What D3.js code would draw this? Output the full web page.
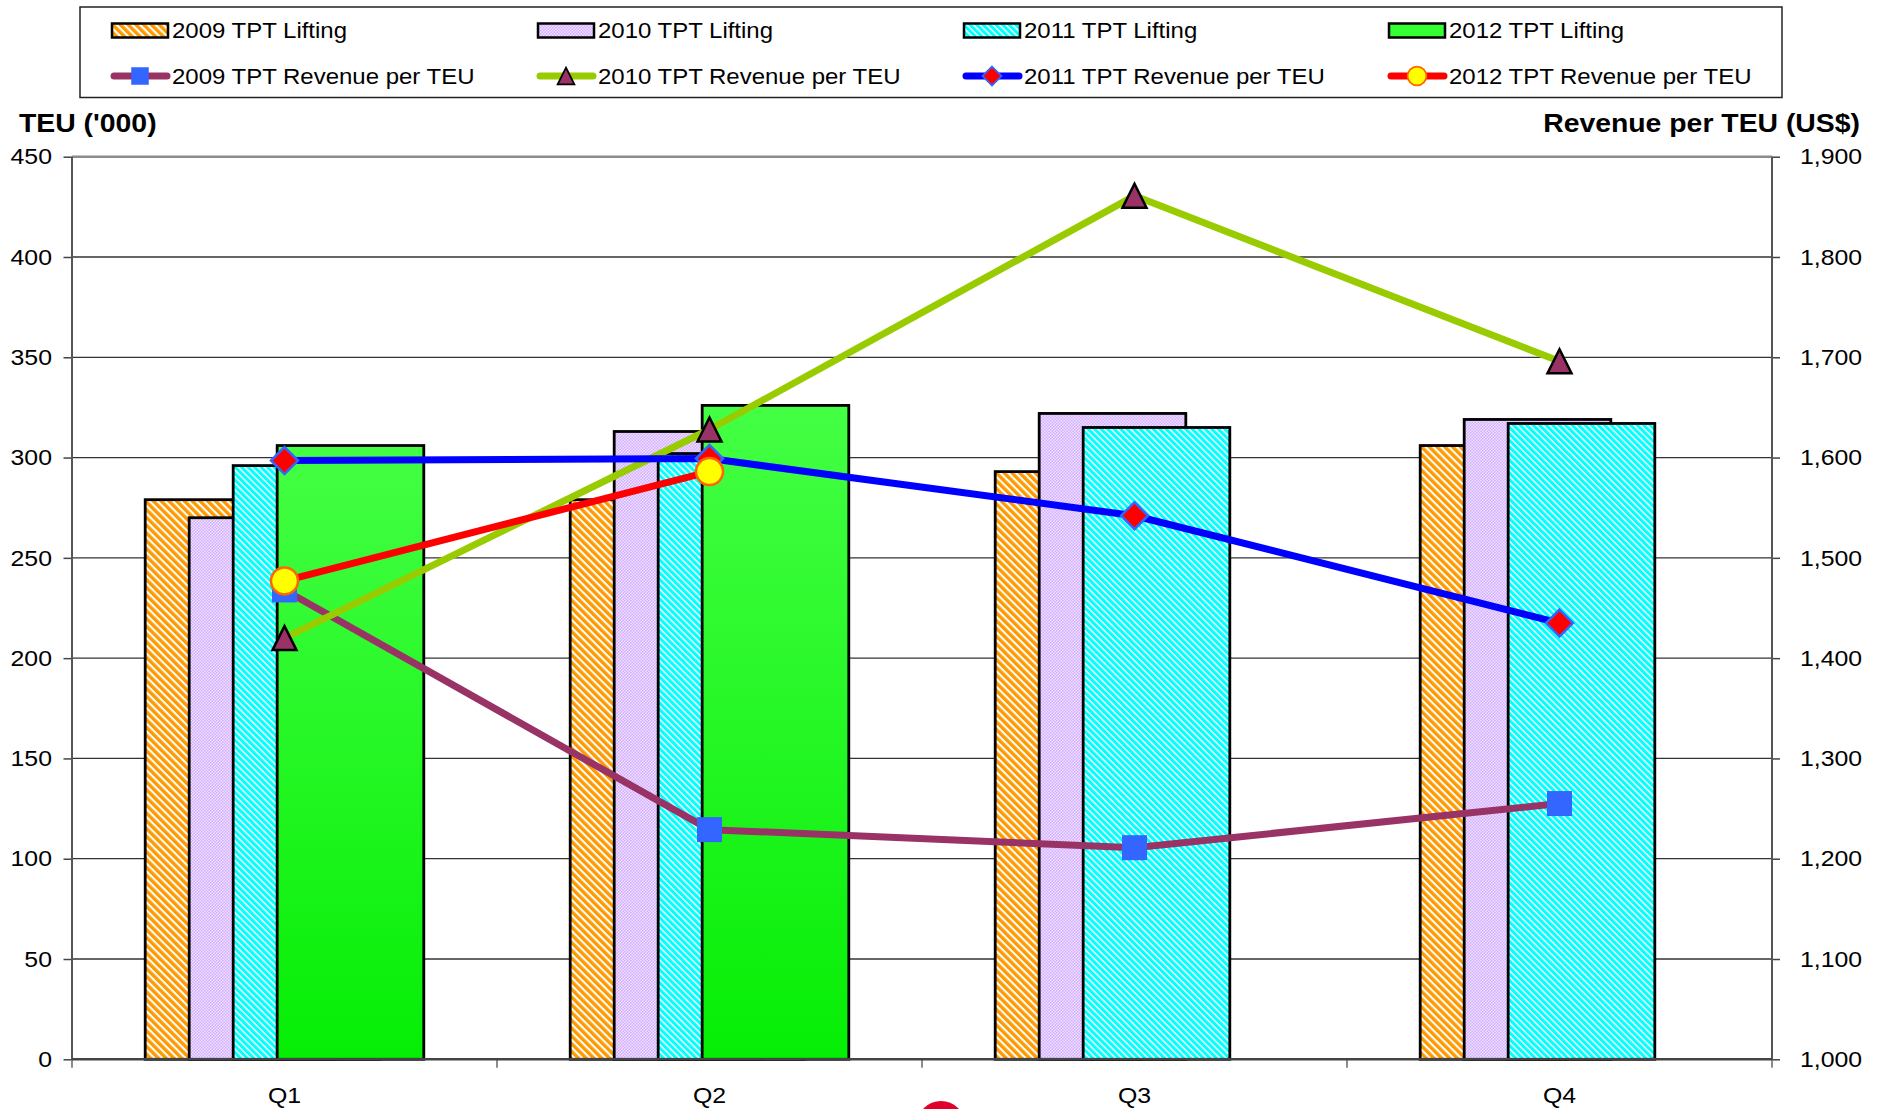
<!DOCTYPE html>
<html>
<head>
<meta charset="utf-8">
<script src="https://cdn.jsdelivr.net/npm/d3@7"></script>
<style>
  body { margin: 0; background: #fff; }
  svg { display: block; font-family: "Liberation Sans", Arial, sans-serif; }
</style>
</head>
<body>
<svg id="svg1" width="1885" height="1109"></svg>
<script>
var quarters = ["Q1", "Q2", "Q3", "Q4"];

var lift2009 = [279, 279, 293, 306];
var lift2010 = [270, 313, 322, 319];
var lift2011 = [296, 302, 315, 317];
var lift2012 = [306, 326, null, null];

var rev2009 = [1468, 1229, 1211, 1255];
var rev2010 = [1420, 1628, 1861, 1696];
var rev2011 = [1597, 1599, 1542, 1435];
var rev2012 = [1477, 1586, null, null];

var leftTicks = [0, 50, 100, 150, 200, 250, 300, 350, 400, 450];
var rightTicks = [1000, 1100, 1200, 1300, 1400, 1500, 1600, 1700, 1800, 1900];

var barSeries = [
  { name: "2009 TPT Lifting", values: lift2009, fill: "url(#pat2009)" },
  { name: "2010 TPT Lifting", values: lift2010, fill: "url(#pat2010)" },
  { name: "2011 TPT Lifting", values: lift2011, fill: "url(#pat2011)" },
  { name: "2012 TPT Lifting", values: lift2012, fill: "url(#grad2012)" }
];

var lineSeries = [
  { name: "2009 TPT Revenue per TEU", values: rev2009, color: "#993366", marker: "square" },
  { name: "2010 TPT Revenue per TEU", values: rev2010, color: "#99cc00", marker: "triangle" },
  { name: "2011 TPT Revenue per TEU", values: rev2011, color: "#0000ff", marker: "diamond" },
  { name: "2012 TPT Revenue per TEU", values: rev2012, color: "#ff0000", marker: "circle" }
];

var stretch = 1.1;

var plotLeft = 72, plotRight = 1772, plotTop = 156.7, plotBottom = 1059.3;

var svg = d3.select("#svg1");

svg.append("rect").attr("width", 1885).attr("height", 1109).attr("fill", "#fff");

// patterns
var defs = svg.append("defs");

var p9 = defs.append("pattern")
    .attr("id", "pat2009")
    .attr("patternUnits", "userSpaceOnUse")
    .attr("width", 5.5).attr("height", 10)
    .attr("patternTransform", "rotate(-45)");
p9.append("rect").attr("width", 5.5).attr("height", 10).attr("fill", "#fff");
p9.append("rect").attr("width", 3.4).attr("height", 10).attr("fill", "#ff9900");

var p10 = defs.append("pattern")
    .attr("id", "pat2010")
    .attr("patternUnits", "userSpaceOnUse")
    .attr("width", 3).attr("height", 3);
p10.append("rect").attr("width", 3).attr("height", 3).attr("fill", "#efe2ff");
p10.append("rect").attr("width", 1.5).attr("height", 1.5).attr("fill", "#d4adff");
p10.append("rect").attr("x", 1.5).attr("y", 1.5).attr("width", 1.5).attr("height", 1.5).attr("fill", "#d4adff");

var p11 = defs.append("pattern")
    .attr("id", "pat2011")
    .attr("patternUnits", "userSpaceOnUse")
    .attr("width", 4.6).attr("height", 10)
    .attr("patternTransform", "rotate(-45)");
p11.append("rect").attr("width", 4.6).attr("height", 10).attr("fill", "#fff");
p11.append("rect").attr("width", 3.1).attr("height", 10).attr("fill", "#00ffff");

var g12 = defs.append("linearGradient")
    .attr("id", "grad2012")
    .attr("x1", 0).attr("y1", 0).attr("x2", 0).attr("y2", 1);
g12.append("stop").attr("offset", "0%").attr("stop-color", "#44ff44");
g12.append("stop").attr("offset", "100%").attr("stop-color", "#05ee05");

// scales
var x = d3.scaleBand().domain(quarters).range([plotLeft, plotRight]).padding(0);
var yL = d3.scaleLinear().domain([0, 450]).range([plotBottom, plotTop]);
var yR = d3.scaleLinear().domain([1000, 1900]).range([plotBottom, plotTop]);

var bw = x.bandwidth();
var barW = bw * 0.345;
var barStep = bw * 0.1035;
var groupOff = (bw - (3 * barStep + barW)) / 2;

// gridlines
svg.append("g")
    .selectAll("line")
    .data(leftTicks.filter(function(d) { return d > 0; }))
    .enter()
    .append("line")
      .attr("x1", plotLeft).attr("x2", plotRight)
      .attr("y1", function(d) { return yL(d); })
      .attr("y2", function(d) { return yL(d); })
      .attr("stroke", function(d) { return d == 450 ? "#8c8c8c" : "#333"; })
      .attr("stroke-width", function(d) { return d == 450 ? 2.5 : 1.3; });

// bars
barSeries.forEach(function(s, i) {
  svg.append("g")
      .selectAll("rect")
      .data(s.values.map(function(v, j) { return { q: quarters[j], v: v }; })
              .filter(function(d) { return d.v != null; }))
      .enter()
      .append("rect")
        .attr("x", function(d) { return x(d.q) + groupOff + i * barStep; })
        .attr("y", function(d) { return yL(d.v); })
        .attr("width", barW)
        .attr("height", function(d) { return yL(0) - yL(d.v); })
        .attr("fill", s.fill)
        .attr("stroke", "#000")
        .attr("stroke-width", 2.8);
});

// axes
var axL = svg.append("g")
    .attr("transform", "translate(" + plotLeft + ",0)")
    .call(d3.axisLeft(yL).tickValues(leftTicks).tickSize(8.5).tickPadding(0).tickFormat(d3.format("d")));

var axR = svg.append("g")
    .attr("transform", "translate(" + plotRight + ",0)")
    .call(d3.axisRight(yR).tickValues(rightTicks).tickSize(8).tickPadding(0).tickFormat(d3.format(",")));

[axL, axR].forEach(function(a) {
  a.select(".domain").remove();
  a.selectAll("line").attr("stroke", "#444").attr("stroke-width", 1.5);
  a.selectAll("text")
      .attr("fill", "#000")
      .attr("font-size", 22.6)
      .attr("font-family", "'Liberation Sans', Arial, sans-serif");
});
axL.selectAll("text").attr("x", -20 / stretch).attr("transform", "scale(" + stretch + ",1)");
axR.selectAll("text").attr("x", 28 / stretch).attr("transform", "scale(" + stretch + ",1)");

var axB = svg.append("g")
    .attr("transform", "translate(0," + plotBottom + ")")
    .call(d3.axisBottom(x).tickSize(0).tickPadding(28));
axB.select(".domain").remove();
axB.selectAll("text")
    .attr("fill", "#000")
    .attr("font-size", 22.6)
    .attr("font-family", "'Liberation Sans', Arial, sans-serif")
    .attr("transform", "scale(" + stretch + ",1)");

svg.append("g")
    .selectAll("line")
    .data(quarters.map(function(q) { return x(q); }).concat([x.range()[1]]))
    .enter()
    .append("line")
      .attr("x1", function(d) { return d; }).attr("x2", function(d) { return d; })
      .attr("y1", plotBottom).attr("y2", plotBottom + 8.5)
      .attr("stroke", "#666").attr("stroke-width", 1.5);

svg.append("line")
    .attr("x1", plotLeft).attr("x2", plotLeft).attr("y1", plotTop).attr("y2", plotBottom)
    .attr("stroke", "#555").attr("stroke-width", 2);
svg.append("line")
    .attr("x1", plotRight).attr("x2", plotRight).attr("y1", plotTop).attr("y2", plotBottom)
    .attr("stroke", "#555").attr("stroke-width", 2);
svg.append("line")
    .attr("x1", plotLeft).attr("x2", plotRight).attr("y1", plotBottom).attr("y2", plotBottom)
    .attr("stroke", "#444").attr("stroke-width", 2.5);

// markers
function drawMarker(g, type, cx, cy, k) {
  k = k || 1;
  if (type == "square") {
    g.append("rect")
        .attr("x", cx - 12.5 * k).attr("y", cy - 12.5 * k)
        .attr("width", 25 * k).attr("height", 25 * k)
        .attr("fill", "#3366ff");
  } else if (type == "triangle") {
    var h = 24 * k, w = 24 * k;
    g.append("path")
        .attr("d", "M" + cx + "," + (cy - h / 2) + "L" + (cx + w / 2) + "," + (cy + h / 2) +
                   "L" + (cx - w / 2) + "," + (cy + h / 2) + "Z")
        .attr("fill", "#993366")
        .attr("stroke", "#000")
        .attr("stroke-width", 2.5 * k)
        .attr("stroke-linejoin", "miter");
  } else if (type == "diamond") {
    var r = 13.5 * k;
    g.append("path")
        .attr("d", "M" + cx + "," + (cy - r) + "L" + (cx + r) + "," + cy +
                   "L" + cx + "," + (cy + r) + "L" + (cx - r) + "," + cy + "Z")
        .attr("fill", "#ff0000")
        .attr("stroke", "#3366ff")
        .attr("stroke-width", 2.5 * k);
  } else {
    g.append("circle")
        .attr("cx", cx).attr("cy", cy).attr("r", 13.5 * k)
        .attr("fill", "#ffff00")
        .attr("stroke", "#ff6600")
        .attr("stroke-width", 2.5 * k);
  }
}

var line = d3.line()
    .defined(function(d) { return d.v != null; })
    .x(function(d) { return x(d.q) + bw / 2; })
    .y(function(d) { return yR(d.v); });

lineSeries.forEach(function(s) {
  var pts = s.values.map(function(v, j) { return { q: quarters[j], v: v }; });
  var g = svg.append("g");
  g.append("path")
      .datum(pts)
      .attr("d", line)
      .attr("fill", "none")
      .attr("stroke", s.color)
      .attr("stroke-width", 7)
      .attr("stroke-linejoin", "round");
  pts.filter(function(d) { return d.v != null; }).forEach(function(d) {
    drawMarker(g, s.marker, x(d.q) + bw / 2, yR(d.v));
  });
});

// axis titles
svg.append("text")
    .attr("transform", "translate(19,132) scale(" + stretch + ",1)")
    .attr("font-size", 25.8)
    .attr("font-weight", "bold")
    .text("TEU ('000)");

svg.append("text")
    .attr("transform", "translate(1860,132) scale(" + stretch + ",1)")
    .attr("text-anchor", "end")
    .attr("font-size", 25.8)
    .attr("font-weight", "bold")
    .text("Revenue per TEU (US$)");

// legend
var legend = svg.append("g");
legend.append("rect")
    .attr("x", 80).attr("y", 7).attr("width", 1702).attr("height", 90.5)
    .attr("fill", "#fff").attr("stroke", "#222").attr("stroke-width", 1.5);

var cols = [112, 538, 964, 1389];

barSeries.forEach(function(s, i) {
  legend.append("rect")
      .attr("x", cols[i]).attr("y", 23.5).attr("width", 56).attr("height", 14)
      .attr("fill", i == 3 ? "#33ff33" : s.fill)
      .attr("stroke", "#000").attr("stroke-width", 2.5);
  legend.append("text")
      .attr("transform", "translate(" + (cols[i] + 60) + ",30.5) scale(" + stretch + ",1)")
      .attr("dominant-baseline", "central")
      .attr("font-size", 21.8)
      .text(s.name);
});

lineSeries.forEach(function(s, i) {
  legend.append("line")
      .attr("x1", cols[i] + 2).attr("x2", cols[i] + 55)
      .attr("y1", 76).attr("y2", 76)
      .attr("stroke", s.color).attr("stroke-width", 7)
      .attr("stroke-linecap", "round");
  drawMarker(legend, s.marker, cols[i] + 28, 76, 0.7);
  legend.append("text")
      .attr("transform", "translate(" + (cols[i] + 60) + ",76.5) scale(" + stretch + ",1)")
      .attr("dominant-baseline", "central")
      .attr("font-size", 21.8)
      .text(s.name);
});

// stray red mark at the bottom edge
svg.append("circle")
    .attr("cx", 941).attr("cy", 1125).attr("r", 24)
    .attr("fill", "#e0002b");
</script>
</body>
</html>
